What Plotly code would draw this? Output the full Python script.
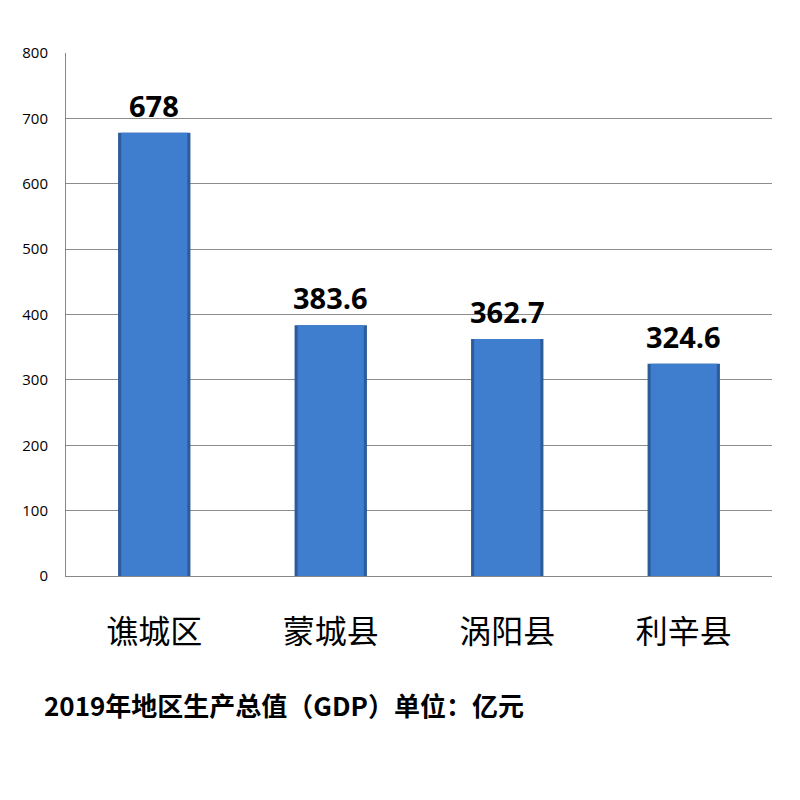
import plotly.graph_objects as go

categories = ["谯城区", "蒙城县", "涡阳县", "利辛县"]
gdp_values = [678, 383.6, 362.7, 324.6]
value_labels = ["678", "383.6", "362.7", "324.6"]
y_ticks = [0, 100, 200, 300, 400, 500, 600, 700, 800]
title_text = "2019年地区生产总值（GDP）单位：亿元"

fig = go.Figure()
# dark edge bar
fig.add_trace(go.Bar(
    x=categories, y=gdp_values, width=0.41,
    marker=dict(color="#2C5C9A", line=dict(width=0)),
    hoverinfo="skip",
))
# lighter inner bar
fig.add_trace(go.Bar(
    x=categories, y=gdp_values, width=0.375,
    marker=dict(color="#3F7ECE", line=dict(width=0)),
    hoverinfo="skip",
))

annotations = [
    dict(x=c, y=v, text=t, xref="x", yref="y", showarrow=False,
         xanchor="center", yanchor="bottom", yshift=6,
         font=dict(family="Open Sans, sans-serif", size=29, color="black", weight="bold"))
    for c, v, t in zip(categories, gdp_values, value_labels)
]
annotations.append(dict(
    text=title_text, xref="paper", yref="paper", x=-0.034, y=-0.245,
    xanchor="left", yanchor="middle", showarrow=False,
    font=dict(family="Noto Sans CJK SC", size=26, color="black", weight="bold"),
))

fig.update_layout(
    width=800, height=800,
    barmode="overlay",
    showlegend=False,
    paper_bgcolor="white", plot_bgcolor="white",
    margin=dict(l=58, r=36, t=45, b=232, autoexpand=False),
    xaxis=dict(
        showgrid=False, showline=True, linecolor="#888888", linewidth=1,
        ticks="", tickfont=dict(family="Noto Sans CJK SC", size=32, color="black"),
        ticklabelstandoff=28, automargin=False,
    ),
    yaxis=dict(
        range=[0, 800], tickvals=y_ticks, showgrid=True, gridcolor="#8C8C8C", gridwidth=1,
        showline=True, linecolor="#888888", linewidth=1, zeroline=False,
        ticks="", tickfont=dict(family="Open Sans, sans-serif", size=15, color="black"),
        ticklabelstandoff=14, automargin=False,
    ),
    annotations=annotations,
)

fig.write_html("out.html")
